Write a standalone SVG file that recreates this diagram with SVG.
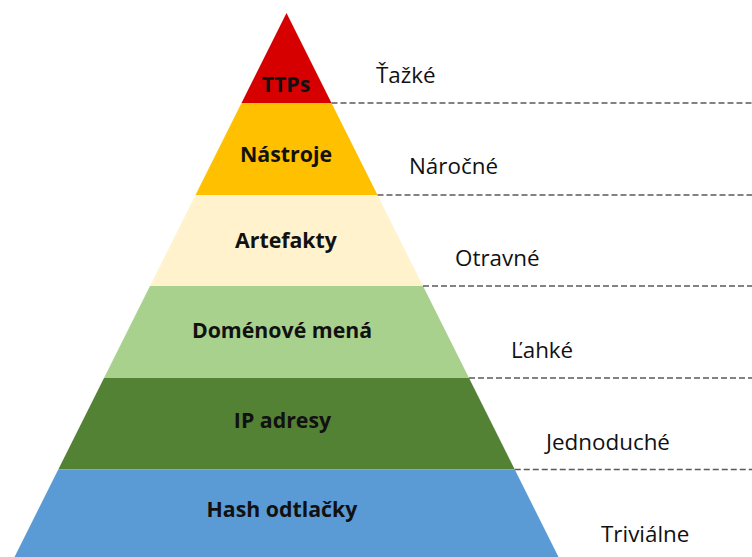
<svg xmlns="http://www.w3.org/2000/svg" width="752" height="557" viewBox="0 0 752 557">
  <style>
    .layer-name { font-family: "Open Sans", "Liberation Sans", sans-serif; font-weight: 700; font-size: 21.3px; fill: #111111; text-anchor: middle; }
    .level { font-family: "Open Sans", "Liberation Sans", sans-serif; font-weight: 400; font-size: 22.4px; fill: #111111; }
    .divider { stroke: #5a5a5a; stroke-width: 1.3; stroke-dasharray: 6 3; fill: none; }
  </style>
  <rect width="752" height="557" fill="#ffffff"/>

  <!-- Pyramid layers, apex at (286.5, 13), sides at slope 0.5 -->
  <g id="ttps">
    <polygon points="286.5,13 331.5,103 241.5,103" fill="#D60000"/>
    <text class="layer-name" x="286" y="92">TTPs</text>
    <text class="level" x="376" y="83">Ťažké</text>
  </g>
  <g id="nastroje">
    <polygon points="241.5,103 331.5,103 377.5,195 195.5,195" fill="#FFC000"/>
    <text class="layer-name" x="286" y="162">Nástroje</text>
    <text class="level" x="409" y="174">Náročné</text>
  </g>
  <g id="artefakty">
    <polygon points="195.5,195 377.5,195 423,286 150,286" fill="#FFF2CC"/>
    <text class="layer-name" x="286" y="248">Artefakty</text>
    <text class="level" x="455" y="266">Otravné</text>
  </g>
  <g id="domenove-mena">
    <polygon points="150,286 423,286 469,378 104,378" fill="#A9D18E"/>
    <text class="layer-name" x="282" y="338">Doménové mená</text>
    <text class="level" x="511" y="358">Ľahké</text>
  </g>
  <g id="ip-adresy">
    <polygon points="104,378 469,378 514.75,469.5 58.25,469.5" fill="#548235"/>
    <text class="layer-name" x="282.5" y="428">IP adresy</text>
    <text class="level" x="546" y="450">Jednoduché</text>
  </g>
  <g id="hash-odtlacky">
    <polygon points="58.25,469.5 514.75,469.5 558.5,557 14.5,557" fill="#5B9BD5"/>
    <text class="layer-name" x="282" y="517">Hash odtlačky</text>
    <text class="level" x="601" y="542">Triviálne</text>
  </g>

  <!-- Dashed dividers from each layer boundary to the right edge -->
  <g id="connectors">
    <line class="divider" x1="331.5" y1="103" x2="752" y2="103"/>
    <line class="divider" x1="377.5" y1="195" x2="752" y2="195"/>
    <line class="divider" x1="423" y1="286" x2="752" y2="286"/>
    <line class="divider" x1="469" y1="378" x2="752" y2="378"/>
    <line class="divider" x1="514.75" y1="469.5" x2="752" y2="469.5"/>
  </g>
</svg>
